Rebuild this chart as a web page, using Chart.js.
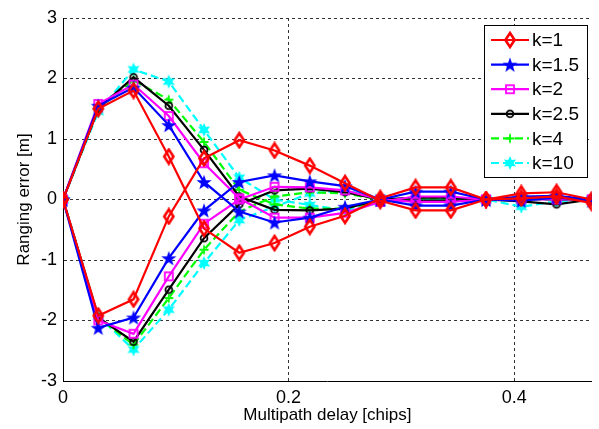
<!DOCTYPE html>
<html><head><meta charset="utf-8">
<script src="https://cdn.jsdelivr.net/npm/chart.js@4.4.1/dist/chart.umd.min.js"></script>
<style>html,body{margin:0;padding:0;background:#fff;overflow:hidden}</style>
</head><body>
<canvas id="c" width="599" height="429" style="display:block;width:599px;height:429px"></canvas>
<script>
// ---- data ----
const delays = [0, 0.03125, 0.0625, 0.09375, 0.125, 0.15625, 0.1875, 0.21875, 0.25, 0.28125, 0.3125, 0.34375, 0.375, 0.40625, 0.4375, 0.46875];
const xTicks = [0, 0.2, 0.4];
const yTicks = [-3, -2, -1, 0, 1, 2, 3];
const kLabels = ['k=1', 'k=1.5', 'k=2', 'k=2.5', 'k=4', 'k=10'];

const k1Pos  = [0, 1.5, 1.8, 0.71, -0.48, -0.88, -0.72, -0.45, -0.27, 0.02, 0.2, 0.2, 0.0, 0.1, 0.12, 0.0];
const k1Neg  = [0, -1.92, -1.65, -0.28, 0.68, 0.98, 0.81, 0.56, 0.27, -0.02, -0.18, -0.18, 0.0, 0.02, 0.05, -0.06];
const k15Pos = [0, 1.55, 1.85, 1.23, 0.29, -0.2, -0.38, -0.3, -0.12, 0.0, 0.13, 0.13, 0.0, 0.05, 0.06, 0.0];
const k15Neg = [0, -2.12, -1.95, -0.97, -0.18, 0.29, 0.4, 0.3, 0.22, 0.0, -0.1, -0.1, 0.0, -0.02, 0.03, -0.02];
const k2Pos  = [0, 1.58, 1.9, 1.38, 0.6, 0.02, -0.3, -0.3, -0.22, -0.04, 0.05, 0.05, 0.0, 0.03, 0.05, 0.0];
const k2Neg  = [0, -2.0, -2.22, -1.27, -0.4, 0.0, 0.21, 0.2, 0.15, 0.0, -0.04, -0.04, 0.0, 0.0, 0.0, 0.0];
const k25Pos = [0, 1.5, 2.02, 1.55, 0.82, 0.05, -0.17, -0.18, -0.15, 0.0, 0.03, 0.03, 0.0, -0.03, -0.08, 0.0];
const k25Neg = [0, -1.95, -2.35, -1.49, -0.64, -0.08, 0.15, 0.18, 0.12, 0.0, -0.02, -0.02, 0.0, 0.02, 0.0, 0.0];
const k4Pos  = [0, 1.5, 1.97, 1.65, 0.95, 0.16, -0.08, -0.15, -0.15, -0.02, 0.02, 0.02, 0.0, 0.0, 0.02, 0.0];
const k4Neg  = [0, -1.95, -2.4, -1.63, -0.83, -0.2, 0.05, 0.12, 0.1, 0.0, -0.02, -0.02, 0.0, 0.0, 0.0, 0.0];
const k10Pos = [0, 1.45, 2.15, 1.95, 1.15, 0.36, 0.0, -0.09, -0.18, -0.05, 0.0, 0.0, 0.0, -0.12, -0.03, 0.0];
const k10Neg = [0, -1.93, -2.48, -1.82, -1.05, -0.34, -0.12, 0.1, 0.15, 0.03, 0.0, 0.0, 0.0, 0.0, 0.0, 0.0];

const seriesPairs = [[k1Pos, k1Neg], [k15Pos, k15Neg], [k2Pos, k2Neg], [k25Pos, k25Neg], [k4Pos, k4Neg], [k10Pos, k10Neg]];

// ---- styles ----
const styles = [
  {color: '#ff0000', marker: 'diamond', dash: []},
  {color: '#0000ff', marker: 'pentagram', dash: []},
  {color: '#ff00ff', marker: 'square', dash: []},
  {color: '#000000', marker: 'circle', dash: []},
  {color: '#00ff00', marker: 'plus', dash: [8, 4]},
  {color: '#00ffff', marker: 'hexagram', dash: [8, 4]}
];

function starPath(g, cx, cy, n, ro, ri) {
  g.beginPath();
  for (let i = 0; i < 2 * n; i++) {
    const r = i % 2 === 0 ? ro : ri;
    const a = -Math.PI / 2 + i * Math.PI / n;
    const px = cx + r * Math.cos(a), py = cy + r * Math.sin(a);
    if (i === 0) g.moveTo(px, py); else g.lineTo(px, py);
  }
  g.closePath();
}
function makeMarker(type, color) {
  const s = 18, m = s / 2;
  const c = document.createElement('canvas');
  c.width = s; c.height = s;
  const g = c.getContext('2d');
  g.strokeStyle = color; g.fillStyle = color; g.lineWidth = 1.8;
  if (type === 'diamond') {
    g.lineWidth = 2.6;
    g.beginPath(); g.moveTo(m, m - 7); g.lineTo(m + 4.6, m); g.lineTo(m, m + 7); g.lineTo(m - 4.6, m); g.closePath(); g.stroke();
  } else if (type === 'pentagram') {
    starPath(g, m, m + 0.8, 5, 8, 3.2); g.fill();
  } else if (type === 'square') {
    g.strokeRect(m - 4, m - 4, 8, 8);
  } else if (type === 'circle') {
    g.beginPath(); g.arc(m, m, 3.4, 0, Math.PI * 2); g.stroke();
  } else if (type === 'plus') {
    g.beginPath(); g.moveTo(m - 4.5, m); g.lineTo(m + 4.5, m); g.moveTo(m, m - 4.5); g.lineTo(m, m + 4.5); g.stroke();
  } else if (type === 'hexagram') {
    starPath(g, m, m, 6, 7, 3.6); g.fill();
  }
  return c;
}
const markers = styles.map(s => makeMarker(s.marker, s.color));

const datasets = [];
seriesPairs.forEach((pair, i) => {
  pair.forEach((vals, j) => {
    datasets.push({
      label: kLabels[i],
      data: delays.map((x, n) => ({x: x, y: vals[n]})),
      borderColor: styles[i].color,
      backgroundColor: styles[i].color,
      borderWidth: 2.2,
      borderDash: styles[i].dash,
      pointStyle: markers[i],
      pointRadius: 5,
      pointHoverRadius: 5,
      tension: 0,
      fill: false,
      showInLegend: j === 0
    });
  });
});

const FONT = 'Liberation Sans, Arial, Helvetica, sans-serif';

const legendPlugin = {
  id: 'matlabLegend',
  afterDraw(chart) {
    const ctx = chart.ctx;
    const bx = 484, by = 25, bw = 103, bh = 152;
    ctx.save();
    ctx.fillStyle = '#fff';
    ctx.fillRect(bx, by, bw, bh);
    ctx.strokeStyle = '#000'; ctx.lineWidth = 1; ctx.setLineDash([]);
    ctx.strokeRect(bx + 0.5, by + 0.5, bw, bh);
    const entries = chart.data.datasets.filter(d => d.showInLegend);
    entries.forEach((d, i) => {
      const y = by + 15 + i * 24.6;
      ctx.strokeStyle = d.borderColor; ctx.lineWidth = 2.2; ctx.setLineDash(d.borderDash || []);
      ctx.beginPath(); ctx.moveTo(491, y); ctx.lineTo(529, y); ctx.stroke();
      ctx.setLineDash([]);
      const img = d.pointStyle;
      ctx.drawImage(img, 510 - img.width / 2, y - img.height / 2);
      ctx.fillStyle = '#000';
      ctx.font = '19px ' + FONT;
      ctx.textBaseline = 'middle'; ctx.textAlign = 'left';
      ctx.fillText(d.label, 532, y + 1);
    });
    ctx.restore();
  }
};

new Chart(document.getElementById('c'), {
  type: 'line',
  data: {datasets},
  plugins: [legendPlugin],
  options: {
    responsive: false,
    animation: false,
    events: [],
    layout: {padding: {left: 0, right: 6, top: 18, bottom: 0}},
    plugins: {legend: {display: false}, tooltip: {enabled: false}},
    scales: {
      x: {
        type: 'linear', min: 0, max: 0.46875,
        afterBuildTicks: s => { s.ticks = xTicks.map(v => ({value: v})); },
        afterFit: s => { s.height = 48; },
        ticks: {callback: v => String(v), color: '#000', font: {size: 18, family: FONT}, padding: 6, maxRotation: 0},
        grid: {color: '#333', lineWidth: 1, drawTicks: false},
        border: {color: '#000', width: 1, dash: [3, 3]},
        title: {display: true, text: 'Multipath delay [chips]', color: '#000', font: {size: 17, family: FONT}, padding: {top: 0, bottom: 3}}
      },
      y: {
        type: 'linear', min: -3, max: 3,
        afterBuildTicks: s => { s.ticks = yTicks.map(v => ({value: v})); },
        afterFit: s => { s.width = 63; },
        ticks: {callback: v => String(v), color: '#000', font: {size: 18, family: FONT}, padding: 6},
        grid: {color: '#333', lineWidth: 1, drawTicks: false},
        border: {color: '#000', width: 1, dash: [3, 3]},
        title: {display: true, text: 'Ranging error [m]', color: '#000', font: {size: 17, family: FONT}, padding: {top: 14, bottom: 0}}
      }
    }
  }
});
</script>
</body></html>
